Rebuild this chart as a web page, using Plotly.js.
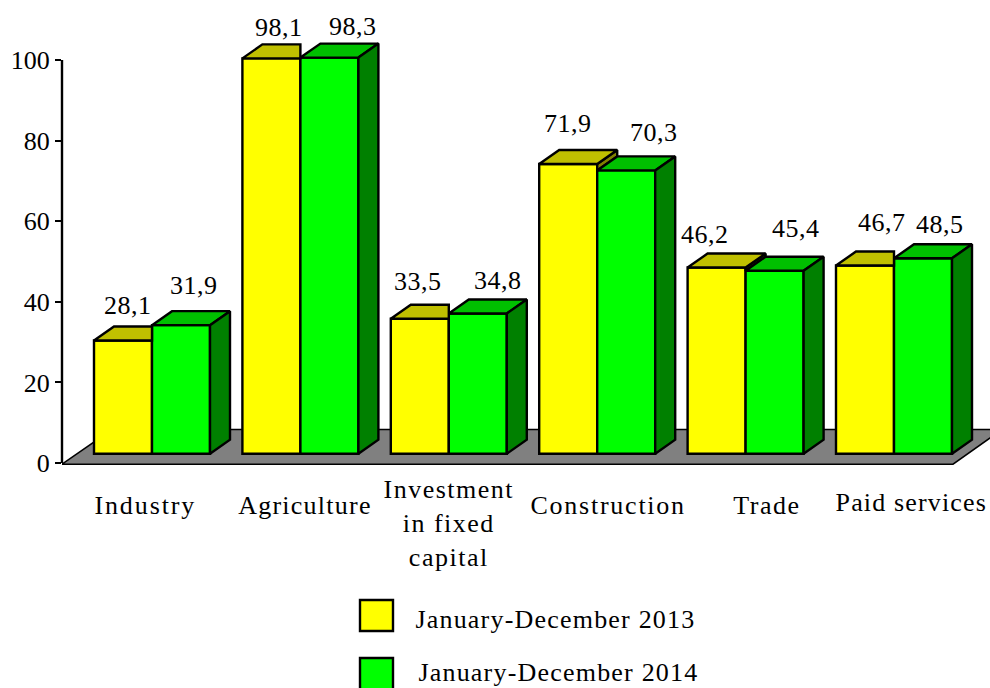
<!DOCTYPE html>
<html><head><meta charset="utf-8">
<script src="https://cdn.plot.ly/plotly-3.0.1.min.js"></script>
<style>html,body{margin:0;padding:0;background:#fff;overflow:hidden}</style>
</head><body><div id="chart" style="width:990px;height:688px"></div>
<script>
const categories = ['Industry','Agriculture','Investment<br>in fixed<br>capital','Construction','Trade','Paid services'];
const series2013 = [28.1,98.1,33.5,71.9,46.2,46.7];
const series2014 = [31.9,98.3,34.8,70.3,45.4,48.5];
const name2013 = 'January-December 2013';
const name2014 = 'January-December 2014';
const yTicks = [0,20,40,60,80,100];

// layout constants
const W=990,H=688,plotLeft=62,plotBottom=483;
const xUnit=148.4,xCenter0=152;
const X=px=>(px-xCenter0)/xUnit;
const yUnit=4.03,zeroPx=463;
const base=2.3, depthX=20/xUnit, depthY=14/yUnit, half=58/xUnit;
const FONT='Liberation Serif, Times New Roman, serif';
const idx=categories.map((_,i)=>i);
const LW=2.4;

function collect(list){const x=[],y=[];list.forEach(p=>{p.forEach(q=>{x.push(q[0]);y.push(q[1]);});x.push(p[0][0]);y.push(p[0][1]);x.push(null);y.push(null);});return {x,y};}

const yTop=collect(idx.map(i=>{const v=series2013[i]+base,g=series2014[i]+base;const l=i-half,r=i;
  return g>v ? [[l,v],[r,v],[r,v+depthY],[l+depthX,v+depthY]] : [[l,v],[r,v],[r+depthX,v+depthY],[l+depthX,v+depthY]];}));
const ySide=collect(idx.filter(i=>series2013[i]>series2014[i]).map(i=>{const v=series2013[i]+base,g=series2014[i]+base;return [[i,v],[i+depthX,v+depthY],[i+depthX,g+depthY],[i,g]];}));
const gTop=collect(idx.map(i=>{const v=series2014[i]+base;const l=i,r=i+half;return [[l,v],[r,v],[r+depthX,v+depthY],[l+depthX,v+depthY]];}));
const gSide=collect(idx.map(i=>{const v=series2014[i]+base;const r=i+half;return [[r,v],[r+depthX,v+depthY],[r+depthX,base+depthY],[r,base]];}));

const faceLine={color:'#000',width:LW};
const face=(d,c)=>({type:'scatter',mode:'lines',x:d.x,y:d.y,fill:'toself',fillcolor:c,line:faceLine,hoverinfo:'skip',showlegend:false});
const barCommon={type:'bar',x:idx,base:idx.map(()=>base),hoverinfo:'skip',showlegend:false};
const traces=[
 Object.assign({},barCommon,{name:name2013,y:series2013,marker:{color:'#ffff00',line:{color:'#000',width:LW}}}),
 Object.assign({},barCommon,{name:name2014,y:series2014,marker:{color:'#00ff00',line:{color:'#000',width:LW}}}),
 face(ySide,'#808000'),face(yTop,'#c0c000'),face(gTop,'#00c000'),face(gSide,'#008000')
];

// hand placed label offsets relative to bar top (px)
const off2013=[[5,34.5],[8,31],[-2,37],[0,40],[-12,33],[17,43]];
const off2014=[[13,40],[24,31],[20,33],[28,38],[21,42],[17,34]];
const fmt=v=>v.toFixed(1).replace('.',',');
const anns=[],spacing=[];
const tf={family:FONT,size:26,color:'#000'};
idx.forEach(i=>{
 anns.push({x:i-half/2,y:series2013[i]+base,xref:'x',yref:'y',text:fmt(series2013[i]),showarrow:false,xshift:off2013[i][0],yshift:off2013[i][1],font:tf,xanchor:'center',yanchor:'middle'});spacing.push(0.5);
 anns.push({x:i+half/2,y:series2014[i]+base,xref:'x',yref:'y',text:fmt(series2014[i]),showarrow:false,xshift:off2014[i][0],yshift:off2014[i][1],font:tf,xanchor:'center',yanchor:'middle'});spacing.push(0.5);
});
const px=p=>(p-plotLeft)/(W-plotLeft);
const py=p=>(plotBottom-p)/plotBottom;
const labelCentersPx=[145,305,449,608,767,911];
const labelMidPx=[505,505,523,505,505,503];
const labelSpacing=[1.9,1.25,1.5,1.75,1.5,1.15];
categories.forEach((c,i)=>{anns.push({x:X(labelCentersPx[i]),y:py(labelMidPx[i]),xref:'x',yref:'paper',text:c,showarrow:false,xanchor:'center',yanchor:'middle',font:tf});spacing.push(labelSpacing[i]);});
anns.push({x:px(555),y:py(619),xref:'paper',yref:'paper',text:name2013,showarrow:false,xanchor:'center',yanchor:'middle',font:tf});spacing.push(1.2);
anns.push({x:px(558),y:py(672),xref:'paper',yref:'paper',text:name2014,showarrow:false,xanchor:'center',yanchor:'middle',font:tf});spacing.push(1.2);

const st=document.createElement('style');
st.textContent=spacing.map((s,i)=>`.annotation[data-index="${i}"] text{letter-spacing:${s}px}`).join('\n');
document.head.appendChild(st);

const xMin=X(plotLeft),xMax=X(W);
const fy0=-0.3,fy1=8.3;
const floorPath=`M${xMin},${fy0}L${X(953)},${fy0}L${X(1002)},${fy1}L${X(112)},${fy1}Z`;
const shapes=[
 {type:'path',path:floorPath,xref:'x',yref:'y',layer:'below',fillcolor:'#808080',line:{color:'#000',width:1.5}},
 {type:'line',xref:'paper',x0:0,x1:0,yref:'y',y0:0,y1:100,line:{color:'#000',width:LW},layer:'above'},
 {type:'rect',xref:'paper',yref:'paper',x0:px(360),x1:px(393),y0:py(600),y1:py(631),fillcolor:'#ffff00',line:{color:'#000',width:LW}},
 {type:'rect',xref:'paper',yref:'paper',x0:px(360),x1:px(393),y0:py(658),y1:py(692),fillcolor:'#00ff00',line:{color:'#000',width:LW}}
];

const layout={
 width:W,height:H,margin:{l:plotLeft,r:0,t:0,b:H-plotBottom,pad:0},
 paper_bgcolor:'#fff',plot_bgcolor:'rgba(0,0,0,0)',
 barmode:'group',bargap:1-2*half,bargroupgap:0,showlegend:false,
 font:{family:FONT,color:'#000'},
 xaxis:{range:[xMin,xMax],showgrid:false,zeroline:false,showline:false,showticklabels:false,ticks:'',fixedrange:true},
 yaxis:{range:[(zeroPx-plotBottom)/yUnit,zeroPx/yUnit],tickmode:'array',tickvals:yTicks,ticktext:yTicks.map(String),ticks:'outside',ticklen:6,tickwidth:2,tickcolor:'#000',showgrid:false,zeroline:false,showline:false,tickfont:tf,fixedrange:true},
 annotations:anns,shapes:shapes
};
Plotly.newPlot('chart',traces,layout,{displayModeBar:false,staticPlot:true});
</script></body></html>
